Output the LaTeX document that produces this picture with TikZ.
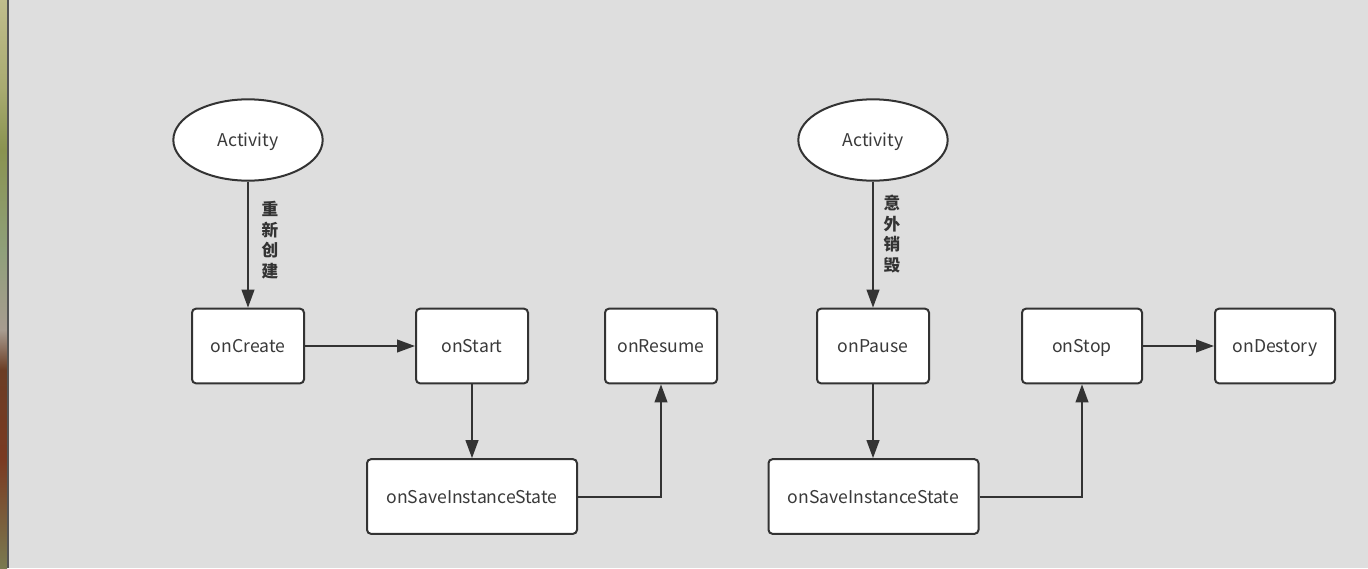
\documentclass[tikz,border=0pt]{standalone}
\usepackage{fontspec}
\setmainfont{Noto Sans CJK SC}
\newfontfamily\cjk{Noto Sans CJK SC}
\usetikzlibrary{shapes.geometric,arrows.meta}
\definecolor{bg}{HTML}{DEDEDE}
\definecolor{ink}{HTML}{333333}
\definecolor{txt}{HTML}{3A3A3A}
\definecolor{edge}{HTML}{555555}
\definecolor{sa}{HTML}{C0BD8C}
\definecolor{sb}{HTML}{A8AA70}
\definecolor{sc}{HTML}{8A9350}
\definecolor{sd}{HTML}{8FA07A}
\definecolor{se}{HTML}{A89C90}
\definecolor{sf}{HTML}{6B3D25}
\definecolor{sg}{HTML}{7A3A22}
\definecolor{sh}{HTML}{7A7A50}
\tikzset{
  lifebox/.style={draw=ink, line width=1.5pt, fill=white, rounded corners=3pt,
    minimum width=84pt, minimum height=56pt, inner sep=0pt, text=txt,
    font=\fontsize{13.2}{15}\selectfont, text height=1.18em, text depth=0.18em},
  actnode/.style={draw=ink, line width=1.5pt, fill=white, ellipse,
    minimum width=112pt, minimum height=61pt, inner sep=0pt, text=txt,
    font=\fontsize{13.2}{15}\selectfont, text height=1.18em, text depth=0.18em},
  flow/.style={draw=ink, line width=1.5pt, -{Triangle[length=13.5pt,width=9.5pt]}},
  vlabel/.style={text=ink, align=center, inner sep=0pt,
    font=\cjk\bfseries\fontsize{12.5}{15.5}\selectfont}
}
\begin{document}
\begin{tikzpicture}[x=0.75pt,y=-0.75pt]
\useasboundingbox (0,0) rectangle (1368,568);
\fill[bg] (0,0) rectangle (1368,568);
\shade[top color=sa, bottom color=sb] (0,0) rectangle (7,90);
\shade[top color=sb, bottom color=sc] (0,90) rectangle (7,150);
\shade[top color=sc, bottom color=sd] (0,150) rectangle (7,250);
\shade[top color=sd, bottom color=se] (0,250) rectangle (7,330);
\shade[top color=se, bottom color=sf] (0,330) rectangle (7,370);
\shade[top color=sf, bottom color=sg] (0,370) rectangle (7,460);
\shade[top color=sg, bottom color=sh] (0,460) rectangle (7,568);
\fill[edge] (7,0) rectangle (8.5,568);

% left group
\node[actnode] (act1) at (248,140) {Activity};
\node[lifebox] (create) at (248,346) {onCreate};
\node[lifebox] (start) at (472,346) {onStart};
\node[lifebox] (resume) at (661,346) {onResume};
\node[lifebox, minimum width=157.5pt] (save1) at (472,496.5) {onSaveInstanceState};
\node[vlabel] (lab1) at (270,240) {重\\新\\创\\建};

\draw[flow] (act1) -- (create);
\draw[flow] (create) -- (start);
\draw[flow] (start) -- (save1);
\draw[flow] (save1.east) -| (resume.south);

% right group
\node[actnode] (act2) at (873,140) {Activity};
\node[lifebox] (pause) at (873,346) {onPause};
\node[lifebox, minimum width=90pt] (stop) at (1082,346) {onStop};
\node[lifebox, minimum width=90pt] (destroy) at (1275,346) {onDestory};
\node[lifebox, minimum width=157.5pt] (save2) at (873.5,496.5) {onSaveInstanceState};
\node[vlabel] (lab2) at (892,234) {意\\外\\销\\毁};

\draw[flow] (act2) -- (pause);
\draw[flow] (pause) -- (pause|-save2.north);
\draw[flow] (save2.east) -| (stop.south);
\draw[flow] (stop) -- (destroy);
\end{tikzpicture}
\end{document}
